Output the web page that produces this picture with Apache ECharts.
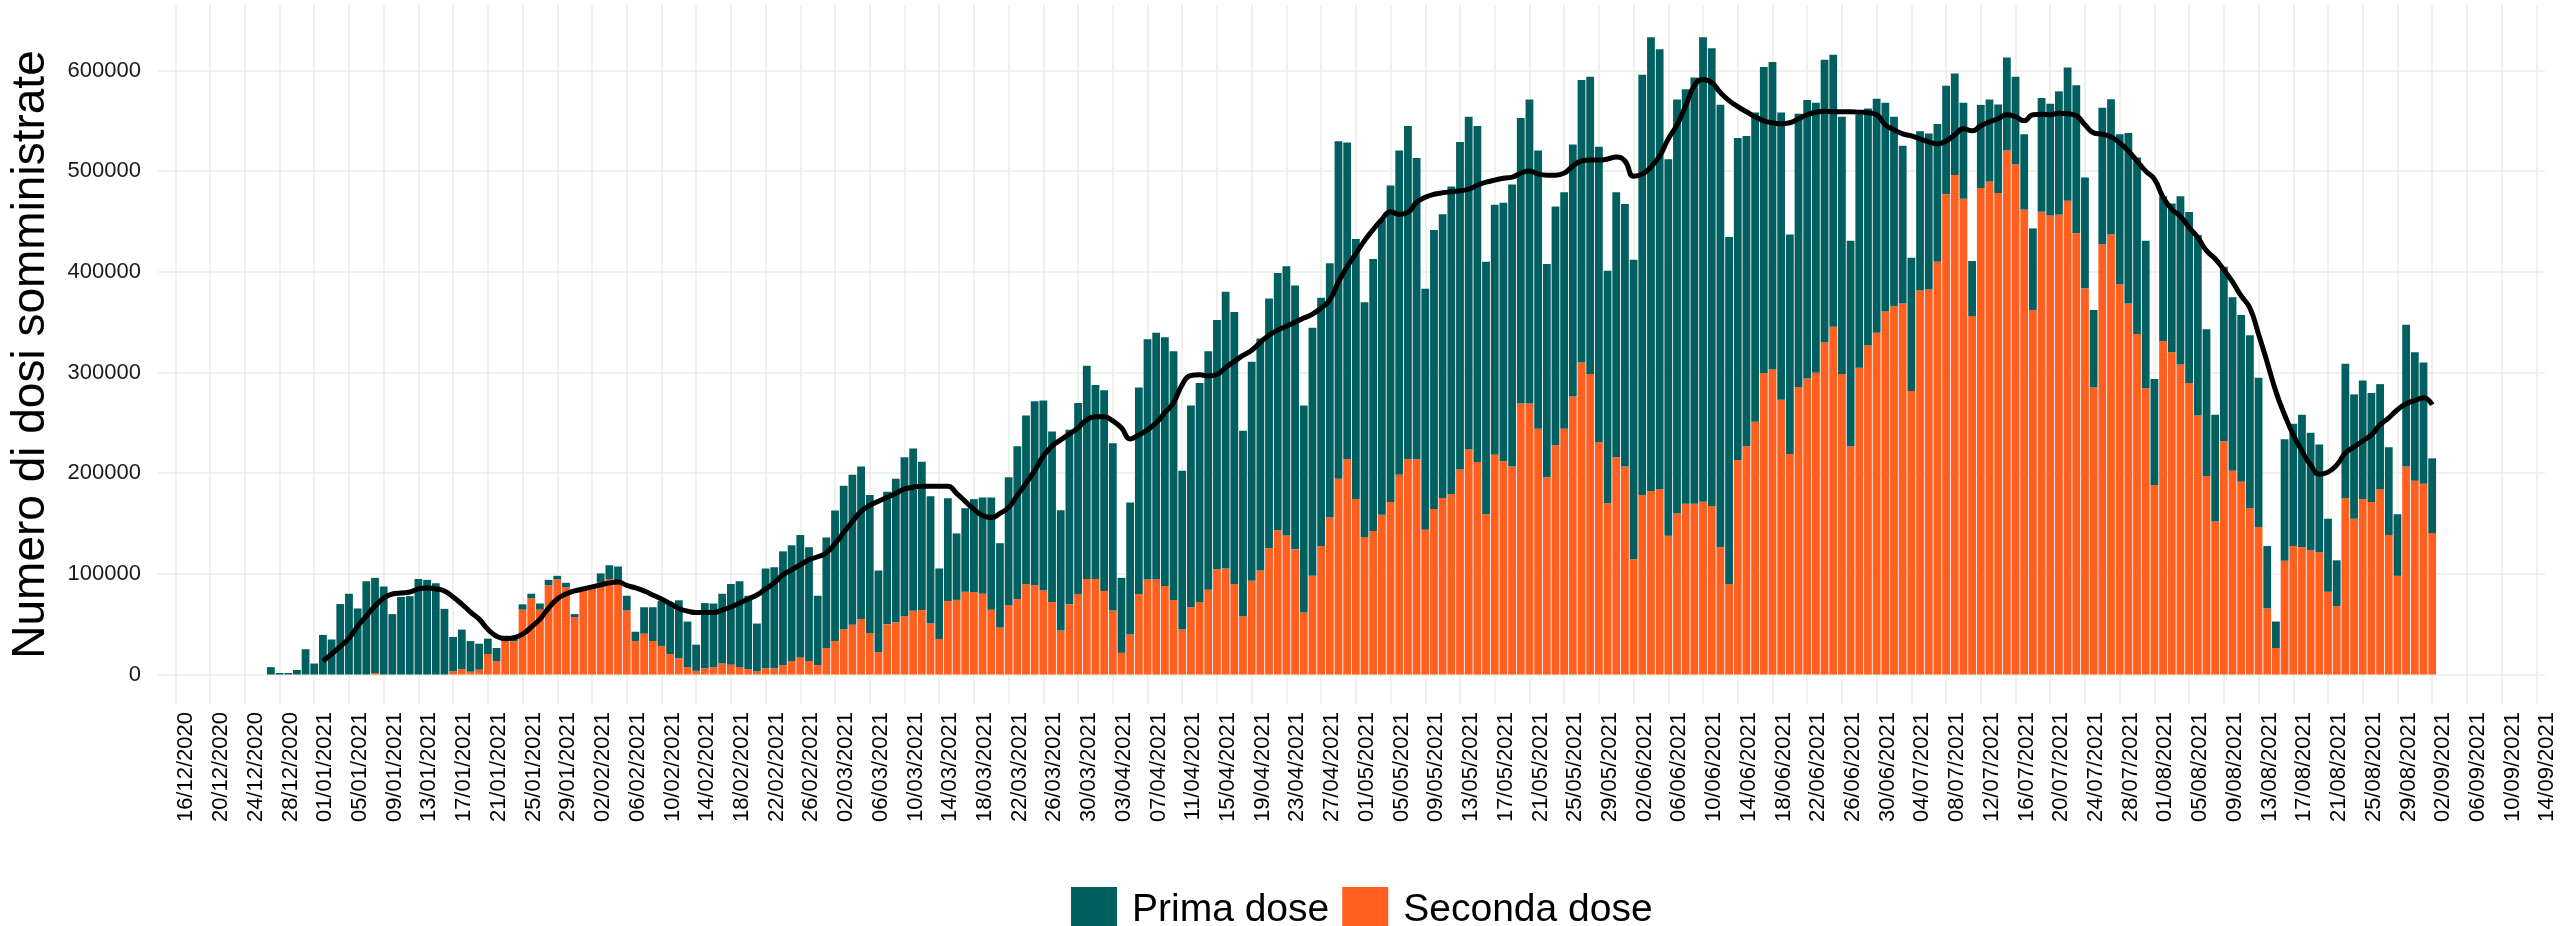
<!DOCTYPE html>
<html>
<head>
<meta charset="utf-8">
<script src="https://cdn.jsdelivr.net/npm/echarts@6/dist/echarts.min.js"></script>
<style>
html, body { margin: 0; padding: 0; background: #fff; }
#chart { width: 2560px; height: 926px; }
</style>
</head>
<body>
<div id="chart"></div>
<script>
// asse dei giorni: dal 14/12/2020 al 15/09/2021 (etichette ogni 4 giorni dal 16/12)
const pad = n => String(n).padStart(2, '0')
const days = []
for (let t = Date.UTC(2020, 11, 14); t <= Date.UTC(2021, 8, 15); t += 86400000) {
  const d = new Date(t)
  days.push(pad(d.getUTCDate()) + '/' + pad(d.getUTCMonth() + 1) + '/' + d.getUTCFullYear())
}
const firstLabel = '16/12/2020'
const lastLabel = '14/09/2021'

// dosi giornaliere a partire dal 27/12/2020
const firstDoseDay = '27/12/2020'
const primaDose = [
  7300, 1500, 1500, 4500, 25100, 10900, 39300, 34800, 70000,
  80200, 65600, 92700, 94500, 87500, 60000, 77000, 77800, 94800, 94000,
  90700, 65200, 34100, 39300, 30400, 25900, 15300, 12900, 4500, 3000,
  5300, 4500, 6100, 5300, 3600, 4400, 2900, 2900, 2900, 9300,
  13700, 14100, 14600, 9300, 26300, 33600, 44500, 50200, 57500, 45300,
  26000, 64800, 63200, 69300, 80200, 85400, 72900, 47400, 99200, 100400,
  113000, 115000, 121500, 113000, 68900, 109800, 129600, 142900, 149100, 151500,
  136900, 81000, 131600, 142600, 158000, 161200, 147400, 126400, 70100, 102100,
  66000, 83000, 92400, 95600, 111400, 83800, 127100, 151900, 167300, 182700,
  188800, 169300, 119500, 173300, 189900, 211800, 192800, 199300, 166000, 74500,
  131200, 205100, 238500, 245000, 247000, 247100, 157900, 200500, 217500, 237000,
  247500, 275000, 270100, 184300, 217400, 230400, 247800, 255500, 267300, 262100,
  205700, 246300, 246600, 252700, 335300, 314700, 258300, 233300, 270100, 293200,
  314300, 321900, 330900, 299300, 239300, 277000, 281800, 305400, 325200, 330400,
  333700, 250700, 248300, 256800, 280200, 283500, 301800, 276200, 211800, 237300,
  234900, 250300, 280700, 295200, 293200, 230900, 263200, 260800, 297300, 417600,
  450700, 437100, 374200, 411100, 411500, 423200, 461300, 454700, 439400, 344700,
  320000, 308200, 307000, 304200, 305400, 285100, 217900, 271400, 276600, 268100,
  281000, 270100, 255500, 204100, 251500, 235300, 232500, 207300, 188300, 156700,
  132400, 158000, 155100, 136900, 107700, 100900, 95200, 54700, 82600, 81500,
  87900, 92400, 87000, 74900, 81000, 113000, 111000, 122400, 132400, 147000,
  110200, 77000, 135700, 134500, 149000, 169200, 175300, 146600, 105300, 144200,
  147800, 167300, 169700, 179400, 145800, 106100, 173300, 172100, 165800, 171800,
  148200, 62000, 26300, 120700, 121500, 131600, 116700, 106900, 72500, 45400,
  133600, 123500, 117800, 108200, 104500, 87100, 61200, 140900, 127600, 120300,
  74200
]
const secondaDose = [
  0, 0, 0, 0, 0, 0, 0, 0, 0,
  0, 0, 0, 1500, 0, 0, 0, 0, 0, 0,
  0, 0, 3200, 5300, 2800, 4700, 20300, 13400, 34000, 33000,
  64400, 75700, 64400, 88700, 94400, 86700, 57100, 83000, 85000, 91100,
  94800, 93200, 63600, 33200, 40500, 33200, 28400, 20300, 16200, 7300,
  3600, 6100, 7300, 10900, 9700, 7300, 5300, 3200, 6100, 6100,
  9300, 13400, 17000, 13400, 9300, 26300, 33200, 44600, 49400, 55100,
  41300, 22300, 49800, 51800, 57900, 63200, 64000, 50600, 35200, 72900,
  74100, 82200, 81800, 80200, 64400, 46600, 68900, 74900, 89900, 88700,
  83400, 72100, 43700, 69700, 79800, 94800, 94800, 83000, 63600, 21500,
  39700, 80000, 94400, 94400, 87900, 74100, 44600, 66800, 72100, 84200,
  104500, 105300, 89900, 57900, 93200, 103300, 125600, 143400, 138100, 124300,
  61600, 98000, 127600, 155900, 194400, 213800, 174200, 136500, 142600, 158800,
  171300, 198500, 213800, 213800, 143800, 164400, 175400, 179400, 203700, 223600,
  211000, 159200, 218300, 211800, 206600, 269300, 269300, 244200, 196000, 227600,
  244200, 276200, 309800, 298500, 230900, 170100, 215900, 206600, 114600, 178200,
  182300, 183900, 137700, 160000, 169700, 169700, 171700, 167300, 126400, 89900,
  213000, 226800, 251100, 299300, 302900, 273000, 219100, 285500, 294000, 299700,
  329700, 345500, 298500, 226800, 304600, 326800, 339400, 360500, 365700, 368600,
  281500, 381500, 382300, 409900, 477100, 496100, 472600, 356000, 483200, 489600,
  478300, 520400, 506700, 461700, 362100, 459700, 456000, 456800, 470600, 438200,
  383500, 285100, 427300, 437000, 387600, 368600, 338200, 284300, 188300, 330900,
  320000, 307800, 289600, 257200, 197200, 151900, 231700, 202500, 191400, 165200,
  146600, 65600, 26300, 113000, 127600, 126400, 123500, 121500, 82200, 68000,
  175000, 154700, 174200, 171300, 183900, 138500, 98000, 206600, 192400, 189500,
  140500
]

// media mobile delle dosi totali, dal 02/01/2021
const firstAvgDay = '02/01/2021'
const mediaDosi = [
  13400, 20200, 28000,
  36000, 48000, 58000, 68000, 76000, 80000, 81000, 82000, 85000, 86000,
  85000, 83000, 77000, 70000, 62000, 55000, 45000, 38000, 35500, 36500,
  40000, 47000, 55000, 66000, 75000, 80000, 83000, 85000, 87000, 89000,
  91000, 92000, 88500, 86000, 83000, 79000, 75000, 70500, 65600, 63000,
  61600, 61600, 61600, 64000, 67000, 71000, 75000, 79000, 85000, 91000,
  99000, 104000, 109000, 114000, 117000, 121000, 130000, 141000, 152000, 162000,
  168000, 172000, 176000, 180000, 184300, 186000, 187100, 187100, 187100, 187100,
  180000, 172000, 164000, 158000, 156000, 160000, 166000, 178000, 190000, 202500,
  217000, 227000, 233000, 239000, 245000, 253000, 256000, 256000, 252000, 245000,
  234000, 238000, 243000, 250000, 260000, 270000, 288000, 297000, 297700, 296500,
  298000, 305000, 311000, 317000, 322000, 330000, 337000, 342000, 346000, 350000,
  354000, 358000, 364000, 372000, 390000, 405000, 418000, 431000, 442000, 452000,
  459700, 457000, 459000, 469000, 474000, 477000, 478500, 479500, 480500, 482000,
  486000, 489000, 491000, 493000, 494000, 498000, 500000, 497000, 496000, 496000,
  498000, 505000, 510000, 511000, 511000, 512000, 514000, 510000, 495000, 497000,
  504000, 515000, 532000, 546000, 565000, 585000, 591000, 588000, 578000, 570000,
  564000, 559000, 554000, 550000, 548000, 547000, 548000, 552000, 556000, 558500,
  559500, 559000, 559000, 559000, 558500, 558000, 556000, 546000, 541000, 537000,
  535000, 532000, 529000, 527000, 530000, 536000, 542000, 540000, 545000, 549000,
  552000, 556000, 554000, 550000, 556000, 556500, 556000, 557500, 557000, 555000,
  546000, 538000, 536600, 534000, 528000, 520000, 510000, 500000, 492000, 474000,
  462000, 455000, 444000, 434000, 421000, 413000, 402000, 390000, 376000, 364000,
  338000, 310000, 281000, 258000, 238000, 222000, 208000, 199000, 201000, 208000,
  220000, 226000, 232000, 238000, 248000, 255000, 263000, 269000, 272000, 275000,
  268000
]

const colors = { prima: '#01605F', seconda: '#FF5F1F' }
const font = 'Liberation Sans, Arial, sans-serif'

// allinea una serie all'asse dei giorni
const onDays = (values, start) => {
  const out = days.map(() => null)
  const i0 = days.indexOf(start)
  values.forEach((v, k) => { out[i0 + k] = v })
  return out
}

const i0 = days.indexOf(firstLabel)
const i1 = days.indexOf(lastLabel)
const everyFourDays = i => i >= i0 && i <= i1 && (i - i0) % 4 === 0

const chart = echarts.init(document.getElementById('chart'))

const option = {
  animation: false,
  backgroundColor: '#fff',
  grid: { left: 157, right: 15, top: 5, bottom: 222 },
  legend: {
    data: ['Prima dose', 'Seconda dose'],
    left: 1066,
    top: 882,
    icon: 'rect',
    itemWidth: 46,
    itemHeight: 46,
    itemGap: 13,
    textStyle: { fontSize: 39, color: '#000', fontFamily: font, padding: [0, 0, 0, 10] }
  },
  xAxis: {
    type: 'category',
    data: days,
    boundaryGap: false,
    axisLine: { show: false },
    axisTick: { show: false },
    axisLabel: {
      interval: everyFourDays,
      rotate: 90,
      margin: 8,
      verticalAlign: 'top',
      fontSize: 22,
      color: '#000',
      fontFamily: font
    },
    splitLine: {
      show: true,
      interval: everyFourDays,
      lineStyle: { color: '#ebebe6', width: 1.5 }
    }
  },
  yAxis: {
    type: 'value',
    min: -29300,
    max: 665000,
    splitNumber: 7,
    name: 'Numero di dosi somministrate',
    nameLocation: 'middle',
    nameGap: 104,
    nameTextStyle: { fontSize: 46, color: '#000', fontFamily: font },
    axisLine: { show: false },
    axisTick: { show: false },
    axisLabel: {
      showMinLabel: false,
      showMaxLabel: false,
      formatter: v => String(v),
      margin: 17,
      fontSize: 22,
      color: '#1a1a1a',
      fontFamily: font
    },
    splitLine: {
      lineStyle: {
        color: ['rgba(0,0,0,0)', '#ebebe6', '#ebebe6', '#ebebe6', '#ebebe6', '#ebebe6', '#ebebe6', '#ebebe6', 'rgba(0,0,0,0)'],
        width: 1.5
      }
    }
  },
  series: [
    {
      name: 'Seconda dose',
      type: 'bar',
      stack: 'dosi',
      barWidth: 7.8,
      itemStyle: { color: colors.seconda },
      data: onDays(secondaDose, firstDoseDay)
    },
    {
      name: 'Prima dose',
      type: 'bar',
      stack: 'dosi',
      barWidth: 7.8,
      itemStyle: { color: colors.prima },
      data: onDays(primaDose, firstDoseDay)
    },
    {
      name: 'Media',
      type: 'line',
      data: onDays(mediaDosi, firstAvgDay),
      smooth: true,
      symbol: 'none',
      lineStyle: { color: '#000', width: 5 },
      z: 10
    }
  ]
}

chart.setOption(option)
</script>
</body>
</html>
